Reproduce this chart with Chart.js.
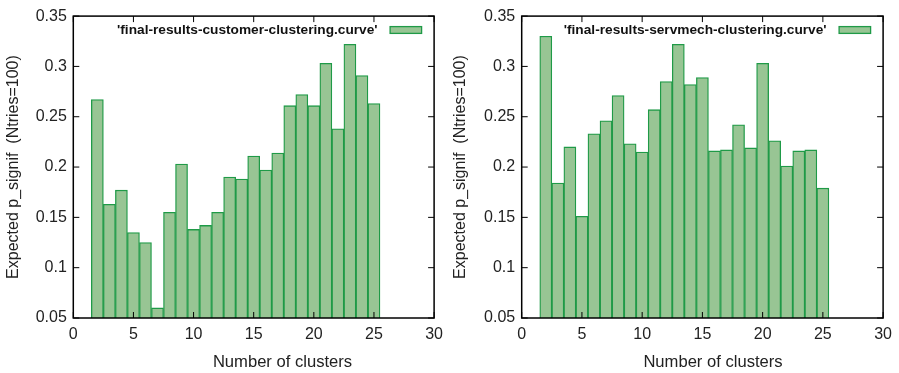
<!DOCTYPE html>
<html>
<head>
<meta charset="utf-8">
<script src="https://cdn.jsdelivr.net/npm/chart.js@4.4.1/dist/chart.umd.min.js"></script>
<style>
  html, body { margin: 0; padding: 0; background: #fff; }
  .row { display: flex; width: 899px; height: 373px; }
  canvas { display: block; }
</style>
</head>
<body>
<div class="row">
  <canvas id="customerChart" width="450" height="373"></canvas>
  <canvas id="servmechChart" width="449" height="373"></canvas>
</div>
<script>
// number of clusters (x) and the expected p_signif per run
const clusters = [2, 3, 4, 5, 6, 7, 8, 9, 10, 11, 12, 13, 14, 15, 16, 17, 18, 19, 20, 21, 22, 23, 24, 25];
const customerValues = [0.267, 0.163, 0.177, 0.135, 0.125, 0.060, 0.155, 0.203, 0.138, 0.142, 0.155, 0.190,
                        0.188, 0.211, 0.197, 0.214, 0.261, 0.272, 0.261, 0.303, 0.238, 0.322, 0.291, 0.263];
const servmechValues = [0.330, 0.184, 0.220, 0.151, 0.233, 0.246, 0.271, 0.223, 0.215, 0.257, 0.285, 0.322,
                        0.282, 0.289, 0.216, 0.217, 0.242, 0.219, 0.303, 0.226, 0.201, 0.216, 0.217, 0.179];
const xTicks = [0, 5, 10, 15, 20, 25, 30];
const yTicks = [0.05, 0.1, 0.15, 0.2, 0.25, 0.3, 0.35];

const FILL = '#98c594';
const EDGE = '#1f9a47';
const FONT = "'Liberation Sans', Arial, Helvetica, sans-serif";

// gnuplot-like frame: box around the plot with inward ticks on all four sides
const framePlugin = {
  id: 'frame',
  afterDatasetsDraw(chart) {
    const { ctx, chartArea: a, scales } = chart;
    const len = 6;
    ctx.save();
    ctx.strokeStyle = '#000';
    ctx.lineWidth = 1;
    ctx.beginPath();
    xTicks.forEach(v => {
      const px = scales.x.getPixelForValue(v);
      ctx.moveTo(px, a.bottom); ctx.lineTo(px, a.bottom - len);
      ctx.moveTo(px, a.top); ctx.lineTo(px, a.top + len);
    });
    yTicks.forEach(v => {
      const py = scales.y.getPixelForValue(v);
      ctx.moveTo(a.left, py); ctx.lineTo(a.left + len, py);
      ctx.moveTo(a.right, py); ctx.lineTo(a.right - len, py);
    });
    ctx.stroke();
    ctx.lineWidth = 1.5;
    ctx.strokeRect(a.left, a.top, a.right - a.left, a.bottom - a.top);
    ctx.restore();
  }
};

// key in the top right corner (label first, sample box after it) and the x label,
// which gnuplot places a bit right of the plot centre
const keyPlugin = {
  id: 'key',
  afterDraw(chart, args, opts) {
    const { ctx, chartArea: a } = chart;
    const label = chart.data.datasets[0].label;
    const boxRight = a.right - 12.5;
    const boxLeft = boxRight - 31.5;
    const top = a.top + 10.5, h = 6.8;
    ctx.save();
    ctx.fillStyle = FILL;
    ctx.fillRect(boxLeft, top, boxRight - boxLeft, h);
    ctx.strokeStyle = EDGE;
    ctx.lineWidth = 1.3;
    ctx.strokeRect(boxLeft, top, boxRight - boxLeft, h);
    ctx.fillStyle = '#111';
    ctx.font = 'bold 13.7px ' + FONT;
    ctx.textAlign = 'right';
    ctx.textBaseline = 'middle';
    ctx.fillText(label, boxLeft - 12.5, top + h / 2 + 0.5);

    ctx.fillStyle = '#222';
    ctx.font = '16.6px ' + FONT;
    ctx.textAlign = 'center';
    ctx.fillText('Number of clusters', opts.xTitleX, 362.5);
    ctx.restore();
  }
};

function makeChart(id, label, values, axisWidth, rightPad, titlePad, xTitleX) {
  return new Chart(document.getElementById(id), {
    type: 'bar',
    data: {
      datasets: [{
        label: label,
        data: clusters.map((c, i) => ({ x: c, y: values[i] })),
        backgroundColor: FILL,
        borderColor: EDGE,
        borderWidth: 1.3,
        borderSkipped: 'start',
        base: 0.05,
        barPercentage: 1,
        categoryPercentage: 1
      }]
    },
    options: {
      responsive: false,
      animation: false,
      layout: { padding: { left: 0, top: 15, right: rightPad, bottom: 0 } },
      plugins: {
        legend: { display: false },
        tooltip: { enabled: false },
        key: { xTitleX: xTitleX }
      },
      scales: {
        x: {
          type: 'linear',
          offset: false,
          min: 0,
          max: 30,
          afterBuildTicks: s => { s.ticks = xTicks.map(v => ({ value: v })); },
          afterFit: s => { s.height = 55; },
          grid: { display: false, drawTicks: false, offset: false },
          border: { display: false },
          ticks: { padding: 7, color: '#222', font: { family: FONT, size: 16 }, maxRotation: 0 }
        },
        y: {
          min: 0.05,
          max: 0.35,
          afterBuildTicks: s => { s.ticks = yTicks.map(v => ({ value: v })); },
          afterFit: s => { s.width = axisWidth; },
          grid: { display: false, drawTicks: false },
          border: { display: false },
          ticks: {
            padding: 6.5,
            color: '#222',
            font: { family: FONT, size: 16 },
            callback: v => String(Number(v.toFixed(2)))
          },
          title: {
            display: true,
            text: 'Expected p_signif  (Ntries=100)',
            color: '#222',
            font: { family: FONT, size: 16 },
            padding: { top: titlePad, bottom: 0 }
          }
        }
      }
    },
    plugins: [framePlugin, keyPlugin]
  });
}

makeChart('customerChart', "'final-results-customer-clustering.curve'", customerValues, 73.3, 13.3, 4, 282.5);
makeChart('servmechChart', "'final-results-servmech-clustering.curve'", servmechValues, 71.7, 14.7, 1, 263);
</script>
</body>
</html>
